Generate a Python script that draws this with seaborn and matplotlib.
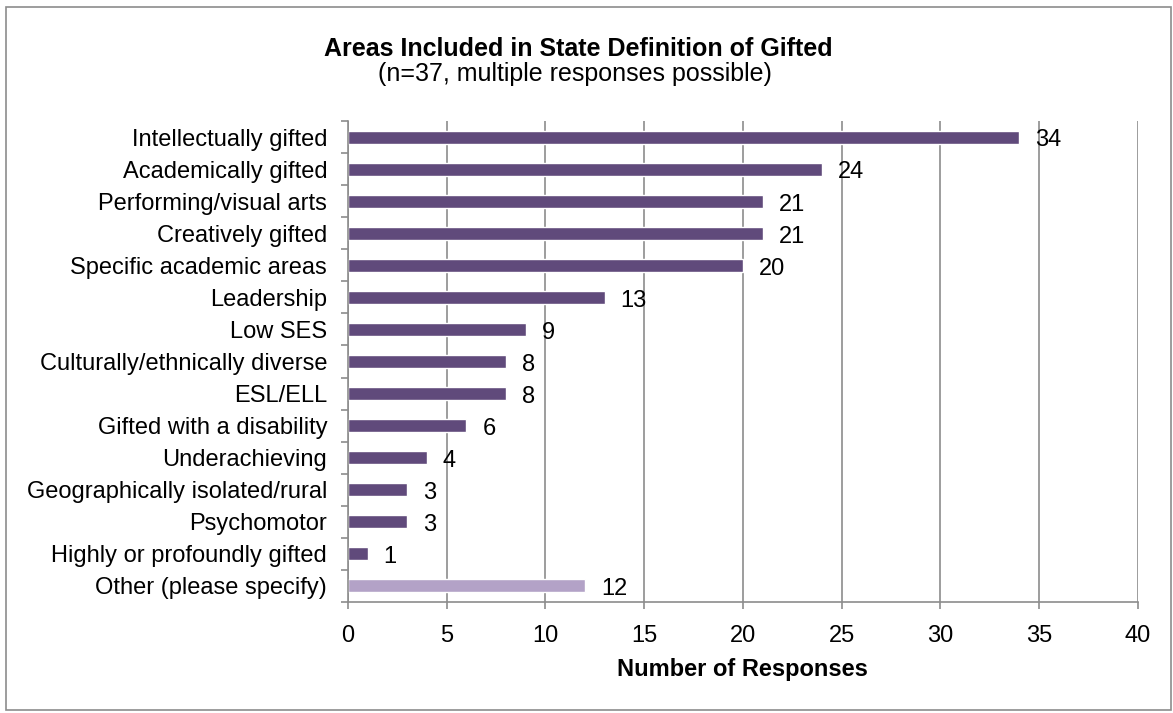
import matplotlib
matplotlib.use("Agg")
import matplotlib.pyplot as plt
import seaborn as sns
import pandas as pd
import numpy as np
from matplotlib.patches import Rectangle

categories = ["Intellectually gifted", "Academically gifted", "Performing/visual arts",
              "Creatively gifted", "Specific academic areas", "Leadership", "Low SES",
              "Culturally/ethnically diverse", "ESL/ELL", "Gifted with a disability",
              "Underachieving", "Geographically isolated/rural", "Psychomotor",
              "Highly or profoundly gifted", "Other (please specify)"]
counts = [34, 24, 21, 21, 20, 13, 9, 8, 8, 6, 4, 3, 3, 1, 12]
colors = ["#604A7B"] * 14 + ["#B3A2C7"]

sns.set_theme(style="white")
plt.rcParams["font.family"] = ["Liberation Sans", "DejaVu Sans"]
plt.rcParams["text.color"] = "black"
plt.rcParams["xtick.labelcolor"] = "black"
plt.rcParams["ytick.labelcolor"] = "black"
plt.rcParams["axes.labelcolor"] = "black"

df = pd.DataFrame({"area": categories, "n": counts})
fig = plt.figure(figsize=(11.73, 7.13), dpi=100)
ax = fig.add_axes([0.2967, 0.156, 0.6733, 0.674])
sns.barplot(data=df, y="area", x="n", hue="area", palette=colors, legend=False,
            order=categories, width=0.42, ax=ax, saturation=1)

ax.set_xlim(0, 40)
ax.set_ylim(len(categories) - 0.5, -0.5)
ax.set_xticks(range(0, 41, 5))
ax.xaxis.grid(True, color="#8C8C8C", linewidth=1.2)
ax.set_axisbelow(True)
for s in ["top", "right"]:
    ax.spines[s].set_visible(False)
for s in ["left", "bottom"]:
    ax.spines[s].set_color("#8C8C8C")
    ax.spines[s].set_linewidth(1.2)

ax.tick_params(axis="x", labelsize=17, length=5, width=1.2, color="#8C8C8C", pad=12, bottom=True)
ax.tick_params(axis="y", labelsize=17, length=0, pad=15)
ax.set_yticks(np.arange(-0.5, len(categories), 1), minor=True)
ax.tick_params(axis="y", which="minor", length=5, width=1.2, color="#8C8C8C", left=True)

for i, v in enumerate(counts):
    ax.text(v + 0.8, i + 0.1, str(v), va="center", ha="left", fontsize=17)

ax.set_ylabel("")
ax.set_xlabel("Number of Responses", fontsize=17, fontweight="bold", labelpad=8)

fig.text(0.493, 0.922, "Areas Included in State Definition of Gifted", ha="center",
         fontsize=18, fontweight="bold")
fig.text(0.49, 0.886, "(n=37, multiple responses possible)", ha="center", fontsize=18)

fig.patches.append(Rectangle((0.005, 0.004), 0.993, 0.986, transform=fig.transFigure,
                             fill=False, edgecolor="#8C8C8C", linewidth=1.2))

plt.savefig("out.png", dpi=100)
plt.close()
